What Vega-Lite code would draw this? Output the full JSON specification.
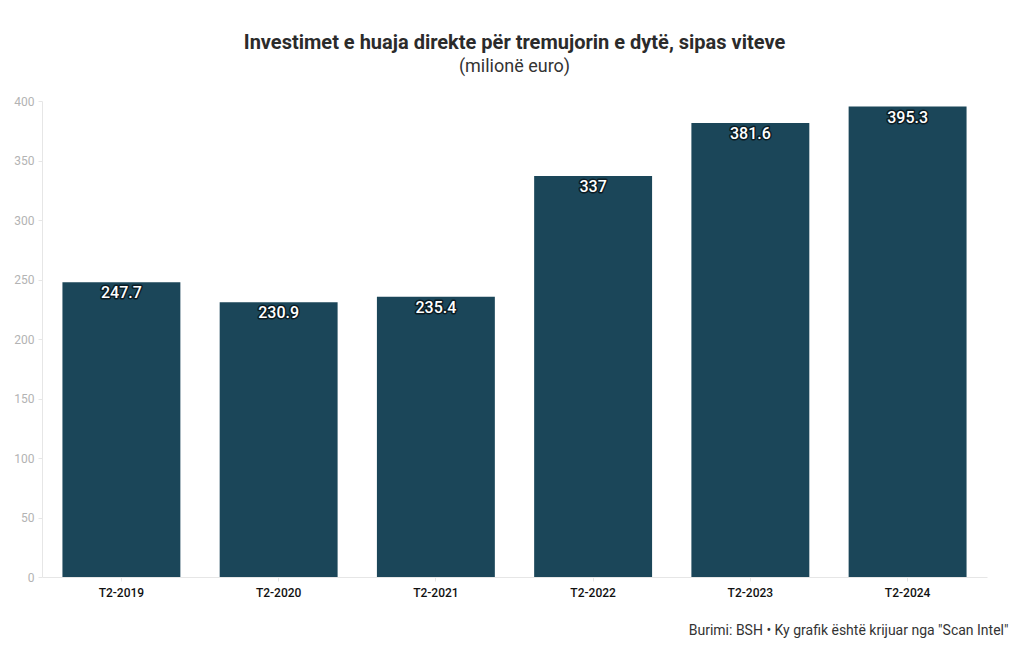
{
  "$schema": "https://vega.github.io/schema/vega-lite/v6.json",
  "width": 945,
  "height": 476,
  "autosize": {"type": "none"},
  "padding": {"left": 42, "top": 101, "right": 33, "bottom": 73},
  "background": "white",
  "title": {
    "text": "Investimet e huaja direkte për tremujorin e dytë, sipas viteve",
    "subtitle": "(milionë euro)",
    "anchor": "middle",
    "font": "Roboto",
    "fontSize": 20,
    "fontWeight": "bold",
    "color": "#2b2b2b",
    "subtitleFont": "Roboto",
    "subtitleFontSize": 18,
    "subtitleColor": "#333333",
    "subtitlePadding": 5,
    "offset": 19
  },
  "data": {
    "values": [
      {"period": "T2-2019", "value": 247.7, "label": "247.7"},
      {"period": "T2-2020", "value": 230.9, "label": "230.9"},
      {"period": "T2-2021", "value": 235.4, "label": "235.4"},
      {"period": "T2-2022", "value": 337, "label": "337"},
      {"period": "T2-2023", "value": 381.6, "label": "381.6"},
      {"period": "T2-2024", "value": 395.3, "label": "395.3"}
    ]
  },
  "encoding": {
    "x": {
      "field": "period",
      "type": "nominal",
      "sort": null,
      "scale": {"paddingInner": 0.25, "paddingOuter": 0.13},
      "axis": {
        "title": "Burimi: BSH • Ky grafik është krijuar nga \"Scan Intel\"",
        "titleFont": "Roboto",
        "titleFontSize": 14,
        "titleFontWeight": "normal",
        "titleColor": "#333333",
        "titleAnchor": "end",
        "titleAlign": "right",
        "titleX": 966,
        "titlePadding": 25,
        "labelAngle": 0,
        "labelFont": "Roboto",
        "labelFontSize": 12,
        "labelFontWeight": 500,
        "labelColor": "#111111",
        "labelPadding": 6,
        "domainColor": "#e6e6e6",
        "tickColor": "#e6e6e6",
        "tickSize": 4
      }
    },
    "y": {
      "field": "value",
      "type": "quantitative",
      "scale": {"domain": [0, 400], "nice": false},
      "axis": {
        "title": null,
        "values": [0, 50, 100, 150, 200, 250, 300, 350, 400],
        "grid": false,
        "labelFont": "Roboto",
        "labelFontSize": 12,
        "labelColor": "#b3b3b3",
        "labelPadding": 4,
        "domainColor": "#e6e6e6",
        "tickColor": "#e6e6e6",
        "tickSize": 4
      }
    }
  },
  "layer": [
    {"mark": {"type": "bar", "color": "#1b4659"}},
    {
      "mark": {"type": "text", "baseline": "top", "dy": 3, "font": "Roboto", "fontSize": 16, "fontWeight": 500, "stroke": "#0b1c24", "strokeWidth": 3, "fill": "#0b1c24", "strokeJoin": "round"},
      "encoding": {"text": {"field": "label"}}
    },
    {
      "mark": {"type": "text", "baseline": "top", "dy": 3, "font": "Roboto", "fontSize": 16, "fontWeight": 500, "fill": "white"},
      "encoding": {"text": {"field": "label"}}
    }
  ],
  "config": {"view": {"stroke": null}}
}
